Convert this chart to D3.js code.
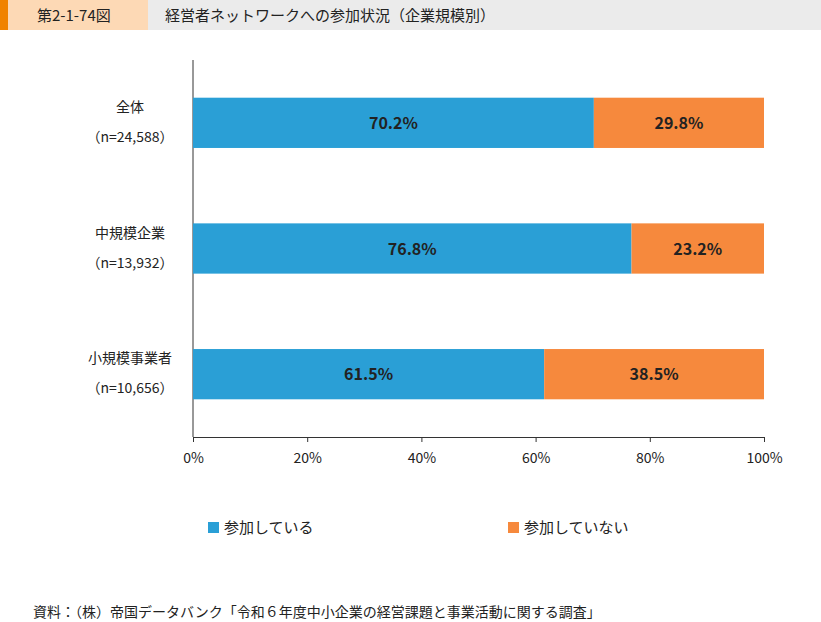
<!DOCTYPE html><html><head><meta charset="utf-8"><script src="https://cdn.jsdelivr.net/npm/d3@7"></script>
<style>body{margin:0;background:#fff}text{font-family:"Noto Sans CJK JP","Noto Sans",sans-serif}</style></head><body><svg id="c" width="821" height="622"></svg>
<script>
const categories=["全体","中規模企業","小規模事業者"];
const counts=["(n=24,588)","(n=13,932)","(n=10,656)"];
const joined=[70.2,76.8,61.5];
const notJoined=[29.8,23.2,38.5];
const seriesNames=["参加している","参加していない"];
const colors=["#2a9fd6","#f6893d"];
const ticks=[0,20,40,60,80,100];
const svg=d3.select("#c");
svg.append("rect").attr("x",0).attr("y",0).attr("width",821).attr("height",30).attr("fill","#ebebeb");
svg.append("rect").attr("x",0).attr("y",0).attr("width",148).attr("height",30).attr("fill","#fdd9b5");
svg.append("rect").attr("x",0).attr("y",0).attr("width",8).attr("height",30).attr("fill","#f08300");
svg.append("text").attr("x",37).attr("y",21).attr("font-size",15).attr("fill","#222").text("第2-1-74図");
svg.append("text").attr("x",165).attr("y",21).attr("font-size",15).attr("fill","#222").text("経営者ネットワークへの参加状況（企業規模別）");
const x=d3.scaleLinear().domain([0,100]).range([193,764]);
const y=d3.scaleBand().domain(categories).range([60,437]).paddingInner(0.6).paddingOuter(0.3);
const ax=svg.append("g").attr("transform","translate(0,437)").call(d3.axisBottom(x).tickValues(ticks).tickFormat(d=>d+"%").tickSize(5).tickSizeOuter(0));
ax.select(".domain").attr("stroke","#333");
ax.selectAll("line").attr("stroke","#333");
ax.selectAll("text").attr("font-size",14).attr("fill","#222").attr("dy","1.3em");
svg.append("line").attr("x1",193).attr("x2",193).attr("y1",60).attr("y2",437).attr("stroke","#333");
categories.forEach((c,i)=>{
  const yy=y(c),h=y.bandwidth();
  const segs=[[0,joined[i]],[joined[i],100]];
  segs.forEach((s,k)=>{
    svg.append("rect").attr("x",x(s[0])).attr("y",yy).attr("width",x(s[1])-x(s[0])).attr("height",h).attr("fill",colors[k]);
    svg.append("text").attr("x",(x(s[0])+x(s[1]))/2).attr("y",yy+h/2+6).attr("text-anchor","middle").attr("font-size",16).attr("font-weight","bold").attr("fill","#222").text((k?notJoined[i]:joined[i]).toFixed(1)+"%");
  });
  svg.append("text").attr("x",130).attr("y",yy+h/2-11).attr("text-anchor","middle").attr("font-size",14).attr("fill","#222").text(c);
  svg.append("text").attr("x",130).attr("y",yy+h/2+19).attr("text-anchor","middle").attr("font-size",14).attr("fill","#222").text(counts[i].replace("(","（").replace(")","）"));
});
const lx=[208,508];
seriesNames.forEach((n,k)=>{
  svg.append("rect").attr("x",lx[k]).attr("y",522).attr("width",11).attr("height",11).attr("fill",colors[k]);
  svg.append("text").attr("x",lx[k]+16).attr("y",533).attr("font-size",15).attr("fill","#222").text(n);
});
svg.append("text").attr("x",33).attr("y",617).attr("font-size",14).attr("fill","#222").text("資料：（株）帝国データバンク「令和６年度中小企業の経営課題と事業活動に関する調査」");
</script></body></html>
